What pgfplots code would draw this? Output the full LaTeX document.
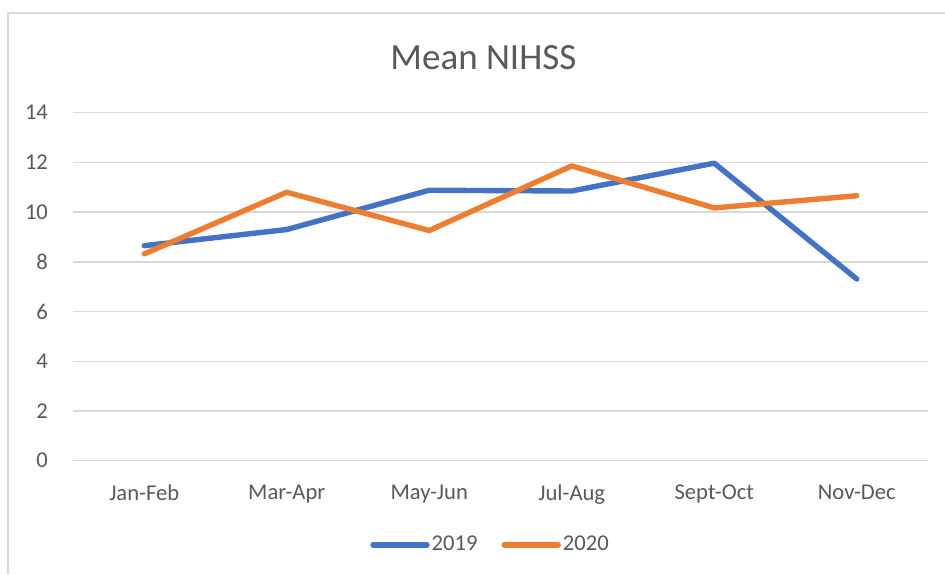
\documentclass[border=0pt]{standalone}
\usepackage{pgfplots}
\pgfplotsset{compat=1.18}
\usepackage{fontspec}
\setmainfont{Carlito}
\definecolor{cblue}{HTML}{4472C4}
\definecolor{corange}{HTML}{ED7D31}
\definecolor{ctext}{HTML}{595959}
\definecolor{cgrid}{HTML}{D9D9D9}
\begin{document}
\begin{tikzpicture}
\path[use as bounding box] (0,0) rectangle (472.5pt,287pt);
\draw[cgrid, line width=0.6pt] (4pt,0) -- (4pt,280.5pt) -- (472.5pt,280.5pt);
\node[text=ctext, font=\fontsize{18.5}{20}\selectfont] at (241.7pt,258pt) {Mean NIHSS};
\begin{axis}[
  at={(36.5pt,56.65pt)}, anchor=south west,
  scale only axis, width=427.5pt, height=174pt,
  xmin=-0.5, xmax=5.5, ymin=0, ymax=14,
  xtick={0,1,2,3,4,5},
  xticklabels={Jan-Feb,Mar-Apr,May-Jun,Jul-Aug,Sept-Oct,Nov-Dec},
  ytick={0,2,4,6,8,10,12,14},
  ymajorgrids, grid style={cgrid, line width=0.7pt},
  axis line style={draw=none},
  major tick length=0pt,
  tick label style={text=ctext, font=\fontsize{11.3}{13}\selectfont},
  /pgf/number format/assume math mode=true,
  yticklabel style={anchor=east, xshift=-9pt},
  xticklabel style={anchor=north, yshift=-8.5pt},
  clip=false,
  legend columns=2,
  legend style={at={(0.4895,-0.242)}, anchor=center, draw=none, fill=none,
    font=\fontsize{11.3}{13}\selectfont, text=ctext,
    /tikz/every odd column/.append style={column sep=-1pt},
    /tikz/every even column/.append style={column sep=10pt}},
  legend image code/.code={\draw[#1, line cap=round] (0pt,0pt) -- (27pt,0pt);},
]
\addplot[cblue, line width=2.7pt, line join=round, line cap=round] coordinates {
(0,8.65) (1,9.30) (2,10.88) (3,10.85) (4,11.97) (5,7.31)};
\addlegendentry{2019}
\addplot[corange, line width=2.7pt, line join=round, line cap=round] coordinates {
(0,8.32) (1,10.80) (2,9.26) (3,11.86) (4,10.17) (5,10.66)};
\addlegendentry{2020}
\end{axis}
\end{tikzpicture}
\end{document}
